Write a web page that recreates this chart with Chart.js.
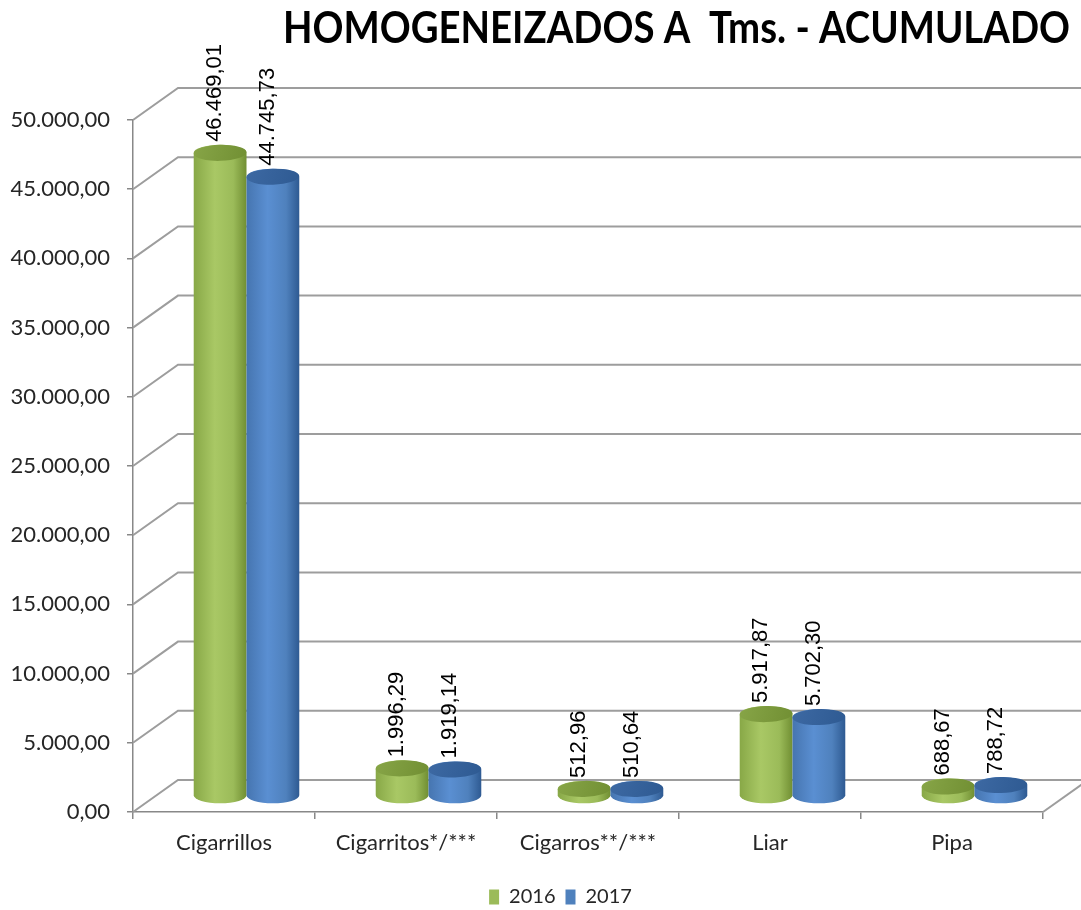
<!DOCTYPE html>
<html>
<head>
<meta charset="utf-8">
<script src="https://cdn.jsdelivr.net/npm/chart.js@4.4.1/dist/chart.umd.min.js"></script>
<style>
  html, body { margin: 0; padding: 0; background: #fff; }
  #wrap { width: 1081px; height: 910px; }
</style>
</head>
<body>
<div id="wrap"><canvas id="chartHomogeneizados" width="1081" height="910"></canvas></div>
<script>
const titulo = "HOMOGENEIZADOS A  Tms. - ACUMULADO";
const categorias = ["Cigarrillos", "Cigarritos*/***", "Cigarros**/***", "Liar", "Pipa"];
const anios = ["2016", "2017"];
const valores2016 = [46469.01, 1996.29, 512.96, 5917.87, 688.67];
const valores2017 = [44745.73, 1919.14, 510.64, 5702.30, 788.72];
const ejeMin = 0;
const ejeMax = 50000;
const ejePaso = 5000;

// colores tipo Excel (cuerpo, luz, sombra, tapa)
const colores = [
  { base: "#9bbb59", dark: "#88a847", light: "#a9c865", shade: "#718f33", top: "#87a547" },
  { base: "#4f81bd", dark: "#4675b0", light: "#5a8fd2", shade: "#2e5a92", top: "#3d69a3" }
];

// profundidad del "3D"
const DX = 45;
const DY = 32;
const RY = 8;

function fmtNum(v) {
  const [ent, dec] = Number(v).toFixed(2).split(".");
  return ent.replace(/\B(?=(\d{3})+(?!\d))/g, ".") + "," + dec;
}

function cilindro(ctx, cx, yTop, yBot, rx, c) {
  const g = ctx.createLinearGradient(cx - rx, 0, cx + rx, 0);
  g.addColorStop(0, c.dark);
  g.addColorStop(0.4, c.light);
  g.addColorStop(0.75, c.base);
  g.addColorStop(1, c.shade);
  ctx.beginPath();
  ctx.moveTo(cx - rx, yTop);
  ctx.lineTo(cx - rx, yBot);
  ctx.ellipse(cx, yBot, rx, RY, 0, Math.PI, 0, true);
  ctx.lineTo(cx + rx, yTop);
  ctx.ellipse(cx, yTop, rx, RY, 0, 0, Math.PI, true);
  ctx.closePath();
  ctx.fillStyle = g;
  ctx.fill();

  const gt = ctx.createLinearGradient(cx - rx, yTop - RY, cx + rx, yTop + RY);
  gt.addColorStop(0, c.top);
  gt.addColorStop(1, c.shade);
  ctx.beginPath();
  ctx.ellipse(cx, yTop, rx, RY, -0.03, 0, Math.PI * 2);
  ctx.fillStyle = gt;
  ctx.fill();
}

const marco3d = {
  id: "marco3d",
  afterLayout(chart) {
    // la leyenda va algo corrida a la derecha, como en el original
    if (chart.legend) {
      chart.legend.left += 39;
      chart.legend.right += 39;
    }
  },
  beforeDatasetsDraw(chart) {
    const { ctx, chartArea: a, scales: { y } } = chart;
    ctx.save();
    ctx.strokeStyle = "#9d9d9d";
    ctx.lineWidth = 2;
    y.ticks.forEach(t => {
      const py = y.getPixelForValue(t.value);
      ctx.beginPath();
      ctx.moveTo(a.left, py);
      ctx.lineTo(a.left + DX, py - DY);
      ctx.lineTo(chart.width, py - DY);
      ctx.stroke();
    });
    ctx.beginPath();
    ctx.moveTo(a.right, a.bottom);
    ctx.lineTo(a.right + DX, a.bottom - DY);
    ctx.stroke();
    ctx.restore();
  },
  beforeDatasetDraw() {
    return false; // las barras planas no se pintan, se pintan los cilindros
  },
  afterDatasetsDraw(chart) {
    const ctx = chart.ctx;
    const metas = chart.data.datasets.map((_, i) => chart.getDatasetMeta(i));
    const etiquetas = [];
    categorias.forEach((_, i) => {
      metas.forEach((meta, d) => {
        const el = meta.data[i];
        const p = el.getProps(["x", "y", "base", "width"], true);
        const cx = p.x + DX / 2;
        const yTop = p.y - DY / 2;
        const yBot = p.base - DY / 2;
        cilindro(ctx, cx, yTop, yBot, p.width / 2, colores[d]);
        etiquetas.push({ x: cx - 5, y: yTop - RY - 3, txt: fmtNum(chart.data.datasets[d].data[i]) });
      });
    });
    ctx.save();
    ctx.fillStyle = "#000";
    ctx.font = "22px 'Liberation Sans', Arial, sans-serif";
    ctx.textAlign = "left";
    ctx.textBaseline = "middle";
    etiquetas.forEach(e => {
      ctx.save();
      ctx.translate(e.x, e.y);
      ctx.rotate(-Math.PI / 2);
      ctx.fillText(e.txt, 0, 0);
      ctx.restore();
    });
    ctx.restore();
  },
  afterDraw(chart) {
    const ctx = chart.ctx;
    ctx.save();
    ctx.font = "bold 43px Lato, sans-serif";
    const w = ctx.measureText(titulo).width;
    const k = 787 / w;
    ctx.translate(1070, 43);
    ctx.scale(k, 1);
    ctx.textAlign = "right";
    ctx.textBaseline = "alphabetic";
    ctx.fillStyle = "#000";
    ctx.fillText(titulo, 0, 0);
    ctx.restore();
  }
};

const PAD_BOTTOM = -7;

new Chart(document.getElementById("chartHomogeneizados"), {
  type: "bar",
  data: {
    labels: categorias,
    datasets: [
      { label: anios[0], data: valores2016, backgroundColor: colores[0].base },
      { label: anios[1], data: valores2017, backgroundColor: colores[1].base }
    ]
  },
  options: {
    responsive: false,
    animation: false,
    devicePixelRatio: 1,
    categoryPercentage: 0.58,
    barPercentage: 1.0,
    layout: { padding: { left: 0, right: 38, top: 120, bottom: PAD_BOTTOM } },
    plugins: {
      title: { display: false },
      tooltip: { enabled: false },
      legend: {
        position: "bottom",
        labels: {
          font: { family: "Lato", size: 20 },
          color: "#262626",
          boxWidth: 10,
          boxHeight: 15,
          padding: 10
        }
      }
    },
    scales: {
      x: {
        grid: { drawOnChartArea: false, drawTicks: true, tickLength: 7, color: "#888", lineWidth: 1.5 },
        border: { color: "#888", width: 1.5 },
        ticks: { font: { family: "Lato", size: 22 }, color: "#262626", padding: 11, maxRotation: 0, autoSkip: false },
        afterFit(s) {
          const lh = s.chart.legend ? s.chart.legend.height : 40;
          s.height = 910 - 812 - PAD_BOTTOM - lh;
        }
      },
      y: {
        min: ejeMin,
        max: ejeMax,
        grid: { drawOnChartArea: false, drawTicks: true, tickLength: 6, color: "#888", lineWidth: 1.5 },
        border: { color: "#888", width: 1.5 },
        ticks: {
          stepSize: ejePaso,
          font: { family: "Lato", size: 22 },
          color: "#262626",
          padding: 17,
          callback: v => fmtNum(v)
        },
        afterFit(s) { s.width = 133; }
      }
    }
  },
  plugins: [marco3d]
});
</script>
</body>
</html>
